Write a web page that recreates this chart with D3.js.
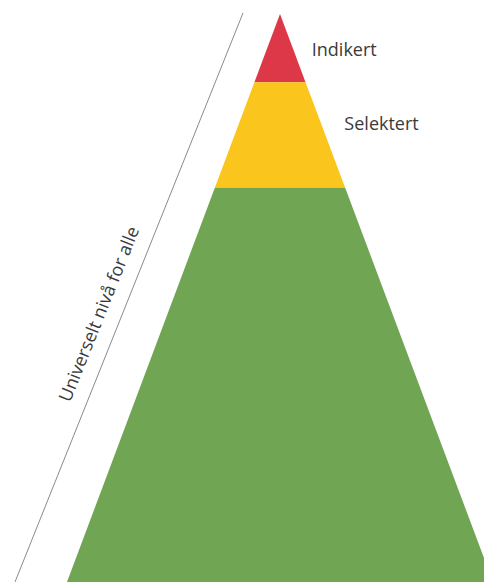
<!DOCTYPE html>
<html>
<head>
<meta charset="utf-8">
<script src="https://cdn.jsdelivr.net/npm/d3@7"></script>
<style>
  html, body { margin: 0; padding: 0; background: #fff; }
  svg { display: block; }
</style>
</head>
<body>
<div class="chart"></div>
<script>
"use strict";

// levels from top of the pyramid down, with their share of the height
var levels = ["Indikert", "Selektert", "Universelt"],
    bounds = [0, 0.12, 0.306, 1],
    colors = ["#dc3848", "#fac51c", "#6fa553"],
    labels = ["Indikert", "Selektert", null],
    labelAt = [0.074, 0.204, null],
    sideLabel = "Universelt nivå for alle";

var width = 484,
    height = 582;

var svg = d3.select(".chart")
          .append("svg")
          .attr("width", width)
          .attr("height", height);

var apexX = 280;

var y = d3.scaleLinear()
    .domain([0, 1])
    .range([14, 582]);

var half = d3.scaleLinear()
    .domain([0, 1])
    .range([0, 213]);

var bands = levels.map(function(d, i){
  return {name: d, t0: bounds[i], t1: bounds[i+1], color: colors[i], label: labels[i], at: labelAt[i]};
});

svg.append("g")
    .selectAll("path")
    .data(bands)
    .enter().append("path")
      .attr("d", function(d){
        var p = d3.path();
        p.moveTo(apexX - half(d.t0), y(d.t0));
        p.lineTo(apexX + half(d.t0), y(d.t0));
        p.lineTo(apexX + half(d.t1), y(d.t1));
        p.lineTo(apexX - half(d.t1), y(d.t1));
        p.closePath();
        return p.toString();
      })
      .attr("fill", function(d){ return d.color; });

// labels to the right of the slope
svg.append("g")
    .selectAll("text")
    .data(bands.filter(function(d){ return d.label; }))
    .enter().append("text")
      .attr("x", function(d){ var m = (d.t0 + d.t1) / 2; return apexX + half(m) + 19; })
      .attr("y", function(d){ return y(d.at); })
      .attr("font-family", "'Open Sans', sans-serif")
      .attr("font-size", 18)
      .attr("fill", "#3a3a3a")
      .text(function(d){ return d.label; });

// the slanted line on the left
var lx1 = 243, ly1 = 13, lx2 = 15, ly2 = 582;
svg.append("line")
    .attr("x1", lx1).attr("y1", ly1)
    .attr("x2", lx2).attr("y2", ly2)
    .style("stroke", "#8a8a8a")
    .style("stroke-width", 1);

var angle = Math.atan2(ly1 - ly2, lx1 - lx2) * 180 / Math.PI;

svg.append("text")
    .attr("transform", "translate(70,403) rotate(" + angle + ")")
    .attr("font-family", "'Open Sans', sans-serif")
    .attr("font-size", 18)
    .attr("fill", "#3a3a3a")
    .text(sideLabel);
</script>
</body>
</html>
